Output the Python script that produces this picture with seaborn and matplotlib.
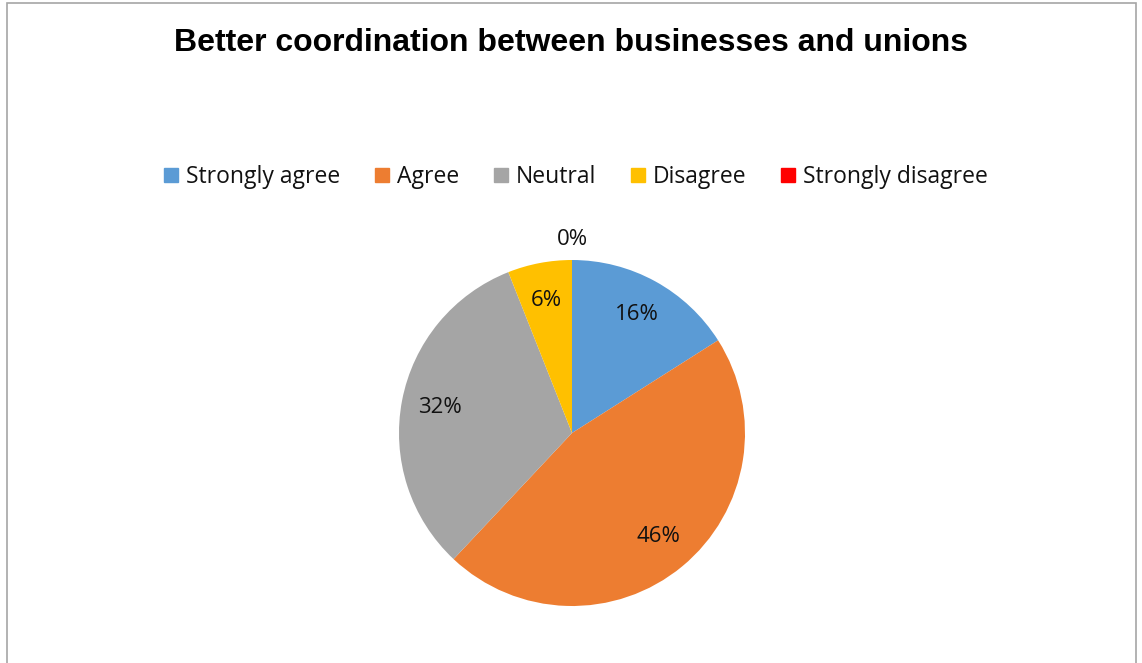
import numpy as np
import matplotlib
matplotlib.use("Agg")
import matplotlib.pyplot as plt
from matplotlib.patches import Rectangle
import seaborn as sns

categories = ["Strongly agree", "Agree", "Neutral", "Disagree", "Strongly disagree"]
shares = [16, 46, 32, 6, 0]
colors = ["#5B9BD5", "#ED7D31", "#A5A5A5", "#FFC000", "#FF0000"]
title = "Better coordination between businesses and unions"

sns.set_theme(style="white")
plt.rcParams["font.family"] = ["Open Sans", "DejaVu Sans"]

W, H = 1142, 663
fig = plt.figure(figsize=(W / 100, H / 100), dpi=100)
fig.patch.set_facecolor("white")

# chart frame (bottom edge runs off the image)
fig.patches.append(Rectangle((7 / W, -0.05), (1136 - 7) / W, 1.05 - 3 / H,
                             transform=fig.transFigure, fill=False,
                             edgecolor="#A6A6A6", linewidth=1.2))

cx, cy, r = 572, 433, 173
ax = fig.add_axes([(cx - r) / W, (H - cy - r) / H, 2 * r / W, 2 * r / H])

wedges, texts, autotexts = ax.pie(
    shares, colors=colors, startangle=90, counterclock=False,
    autopct="%1.0f%%", pctdistance=0.78,
    wedgeprops=dict(linewidth=0, edgecolor="white"),
    textprops=dict(fontsize=16, color="#111111"))
ax.set_xlim(-1, 1)
ax.set_ylim(-1, 1)
ax.set_aspect("equal")
ax.axis("off")

# empty slice: label sits just outside the rim
for w, t, v in zip(wedges, autotexts, shares):
    t.set_clip_on(False)
    if v == 0:
        ang = np.deg2rad((w.theta1 + w.theta2) / 2)
        t.set_position((1.12 * np.cos(ang), 1.12 * np.sin(ang)))

fig.text(0.5, 1 - 43 / H, title, ha="center", va="center",
         fontsize=23, fontweight="bold", family=["Liberation Sans", "DejaVu Sans"],
         color="black")

handles = [plt.Rectangle((0, 0), 1, 1, color=c) for c in colors]
fig.legend(handles, categories, loc="center", bbox_to_anchor=(576 / W, 1 - 177 / H),
           ncol=5, frameon=False, fontsize=16.5, handlelength=0.62, handleheight=0.62,
           handletextpad=0.35, columnspacing=1.5, labelcolor="#111111")

fig.savefig("out.png", dpi=100, facecolor="white")
